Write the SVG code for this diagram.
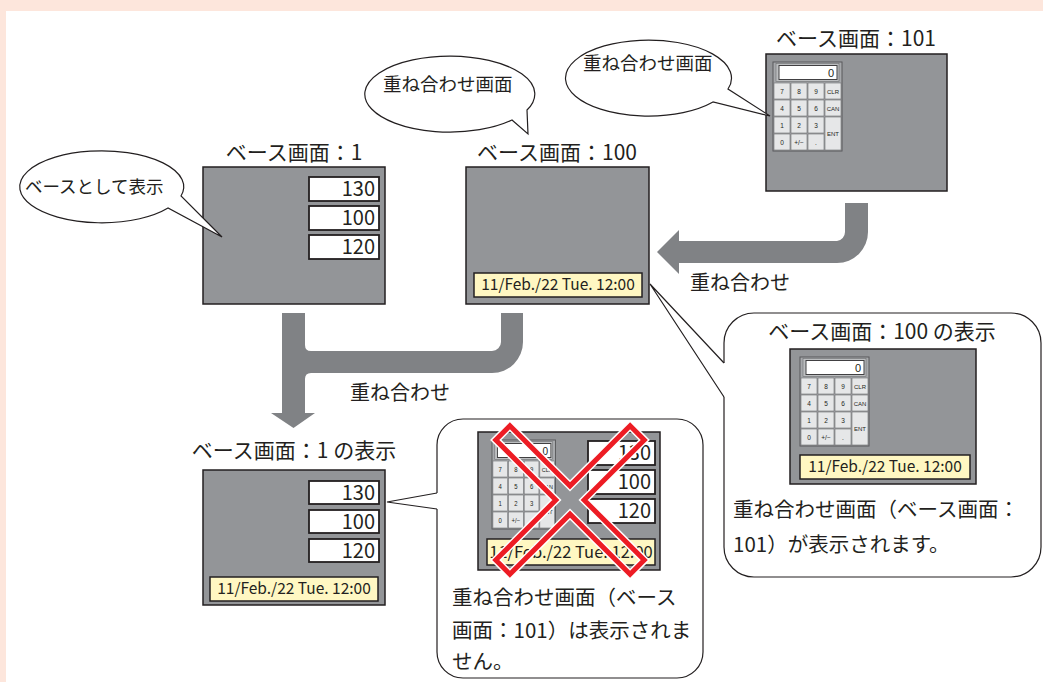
<svg xmlns="http://www.w3.org/2000/svg" width="1043" height="682" viewBox="0 0 1043 682">
<style>
text{font-family:"Noto Sans CJK JP","Noto Sans",sans-serif;fill:#231f20}
.scr{fill:#939598;stroke:#231f20;stroke-width:1.5}
.val{fill:#fff;stroke:#231f20;stroke-width:1.8}
.date{fill:#fff7c2;stroke:#231f20;stroke-width:1.5}
.vt{font-size:20px;text-anchor:end}
.dt{font-size:15.5px;text-anchor:middle}
.ttl{font-size:21px;text-anchor:middle}
.lbl{font-size:20px}
.cap{font-size:20.5px}
.bub{fill:#fff;stroke:#231f20;stroke-width:1.2}
.ln{fill:none;stroke:#231f20;stroke-width:1.2}
.arr{fill:#808285}
.key{fill:#e6e7e8;stroke:#6d6e71;stroke-width:0.6}
.kt{font-family:"Liberation Sans",sans-serif;font-size:6.5px;text-anchor:middle;fill:#231f20}
</style>
<defs>
<g id="keypad">
<rect x="0" y="0" width="69" height="89" fill="#a7a9ac" stroke="#58595b" stroke-width="1"/>
<rect x="3" y="1.5" width="63" height="18" fill="#bcbec0" stroke="#6d6e71" stroke-width="0.6"/>
<rect x="6" y="3.5" width="58" height="14" fill="#fff" stroke="#414042" stroke-width="1"/>
<text x="61" y="15" style="font-size:11px;text-anchor:end;font-family:'Liberation Sans',sans-serif">0</text>
<rect class="key" x="1" y="21" width="16" height="16"/><rect class="key" x="18" y="21" width="16" height="16"/><rect class="key" x="35" y="21" width="16" height="16"/><rect class="key" x="52" y="21" width="16" height="16"/>
<rect class="key" x="1" y="38" width="16" height="16"/><rect class="key" x="18" y="38" width="16" height="16"/><rect class="key" x="35" y="38" width="16" height="16"/><rect class="key" x="52" y="38" width="16" height="16"/>
<rect class="key" x="1" y="55" width="16" height="16"/><rect class="key" x="18" y="55" width="16" height="16"/><rect class="key" x="35" y="55" width="16" height="16"/><rect class="key" x="52" y="55" width="16" height="33"/>
<rect class="key" x="1" y="72" width="16" height="16"/><rect class="key" x="18" y="72" width="16" height="16"/><rect class="key" x="35" y="72" width="16" height="16"/>
<text class="kt" x="9" y="32">7</text><text class="kt" x="26" y="32">8</text><text class="kt" x="43" y="32">9</text><text class="kt" x="60" y="32" style="font-size:6px">CLR</text>
<text class="kt" x="9" y="49">4</text><text class="kt" x="26" y="49">5</text><text class="kt" x="43" y="49">6</text><text class="kt" x="60" y="49" style="font-size:6px">CAN</text>
<text class="kt" x="9" y="66">1</text><text class="kt" x="26" y="66">2</text><text class="kt" x="43" y="66">3</text><text class="kt" x="60" y="74" style="font-size:6px">ENT</text>
<text class="kt" x="9" y="83">0</text><text class="kt" x="26" y="83">+/−</text><text class="kt" x="43" y="83">.</text>
</g>
</defs>

<rect x="0" y="0" width="1043" height="682" fill="#fff"/>
<rect x="0" y="0" width="1043" height="11" fill="#fde6dc"/>
<rect x="0" y="0" width="6" height="682" fill="#fde6dc"/>

<g id="connectors">
<path class="arr" d="M845 203 H868 V232 A31 31 0 0 1 837 263 H679 V274 L657 252 L679 230 V241 H837 A9 9 0 0 0 845 232 Z"/>
<path class="arr" d="M282 313 H305 V345 Q305 351 311 351 H492 A9 9 0 0 0 501 342 V313 H523 V342 A31 31 0 0 1 492 373 H311 Q305 373 305 379 V413 H315 L293.5 428 L271 413 H282 Z"/>
<text class="lbl" x="690" y="290">重ね合わせ</text>
<text class="lbl" x="350" y="400">重ね合わせ</text>
</g>

<g id="base1">
<text class="ttl" x="294" y="160">ベース画面：1</text>
<rect class="scr" x="203" y="167" width="182" height="137"/>
<rect class="val" x="309" y="177" width="70" height="24"/><text class="vt" x="375" y="196">130</text>
<rect class="val" x="309" y="206" width="70" height="24"/><text class="vt" x="375" y="225">100</text>
<rect class="val" x="309" y="235" width="70" height="24"/><text class="vt" x="375" y="254">120</text>
</g>

<g id="bubble-base">
<path class="bub" d="M181 196 A82 36 0 1 0 168 208 L222 237 Z"/>
<text x="25" y="193" style="font-size:17.5px">ベースとして表示</text>
</g>

<g id="base100">
<text class="ttl" x="557" y="160">ベース画面：100</text>
<rect class="scr" x="466" y="167" width="183" height="137"/>
<rect class="date" x="474" y="273" width="168" height="24"/><text class="dt" x="558" y="290">11/Feb./22 Tue. 12:00</text>
</g>

<g id="bubble-overlay1">
<path class="bub" d="M527 110 A85 38 0 1 0 512 120 L528 134 Z"/>
<text x="383" y="91" style="font-size:18.5px">重ね合わせ画面</text>
</g>

<g id="base101">
<text class="ttl" x="856" y="46">ベース画面：101</text>
<rect class="scr" x="766" y="54" width="181" height="137"/>
<use href="#keypad" x="773" y="62"/>
</g>

<g id="bubble-overlay2">
<path class="bub" d="M728 89 A83 38 0 1 0 713 102 L770 116 Z"/>
<text x="583" y="70" style="font-size:18.5px">重ね合わせ画面</text>
</g>

<g id="display100">
<rect class="bub" x="724" y="313" width="317" height="264" rx="30"/>
<polygon points="650,284 724,363 727,363 727,397 724,397" fill="#fff"/>
<polyline class="ln" points="724,363 650,284 724,397"/>
<text class="ttl" x="882" y="339">ベース画面：100 の表示</text>
<rect class="scr" x="790" y="349" width="186" height="135"/>
<use href="#keypad" x="800" y="357"/>
<rect class="date" x="800" y="455" width="170" height="24"/><text class="dt" x="885" y="472">11/Feb./22 Tue. 12:00</text>
<text class="cap" x="733" y="517">重ね合わせ画面（ベース画面：</text>
<text class="cap" x="733" y="552">101）が表示されます。</text>
</g>

<g id="display1">
<text class="ttl" x="294" y="458">ベース画面：1 の表示</text>
<rect class="scr" x="203" y="470" width="182" height="135"/>
<rect class="val" x="309" y="481" width="70" height="23"/><text class="vt" x="375" y="500">130</text>
<rect class="val" x="309" y="510" width="70" height="23"/><text class="vt" x="375" y="529">100</text>
<rect class="val" x="309" y="539" width="70" height="23"/><text class="vt" x="375" y="558">120</text>
<rect class="date" x="210" y="577" width="168" height="24"/><text class="dt" x="294" y="594">11/Feb./22 Tue. 12:00</text>
</g>

<g id="not-displayed">
<rect class="bub" x="437" y="419" width="266" height="259" rx="26"/>
<polygon points="387,502 437,493 440,493 440,509 437,509" fill="#fff"/>
<polyline class="ln" points="437,493 387,502 437,509"/>
<rect class="scr" x="478" y="432" width="182" height="138"/>
<use href="#keypad" transform="translate(492,440) scale(0.92,1)"/>
<rect class="val" x="588" y="441" width="67" height="24"/><text class="vt" x="651" y="460">130</text>
<rect class="val" x="588" y="470" width="67" height="24"/><text class="vt" x="651" y="489">100</text>
<rect class="val" x="588" y="499" width="67" height="24"/><text class="vt" x="651" y="518">120</text>
<rect class="date" x="487" y="539" width="168" height="26"/><text class="dt" x="571" y="558" style="font-size:16.5px">11/Feb./22 Tue. 12:00</text>
<g transform="translate(570,500) rotate(45)">
<polygon points="95,-10 95,10 10,10 10,95 -10,95 -10,10 -95,10 -95,-10 -10,-10 -10,-95 10,-95 10,-10" fill="none" stroke="#fff" stroke-width="8"/>
<polygon points="95,-10 95,10 10,10 10,95 -10,95 -10,10 -95,10 -95,-10 -10,-10 -10,-95 10,-95 10,-10" fill="none" stroke="#ed1c24" stroke-width="5"/>
</g>
<text class="cap" x="452" y="605">重ね合わせ画面（ベース</text>
<text class="cap" x="452" y="638">画面：101）は表示されま</text>
<text class="cap" x="452" y="669">せん。</text>
</g>
</svg>
